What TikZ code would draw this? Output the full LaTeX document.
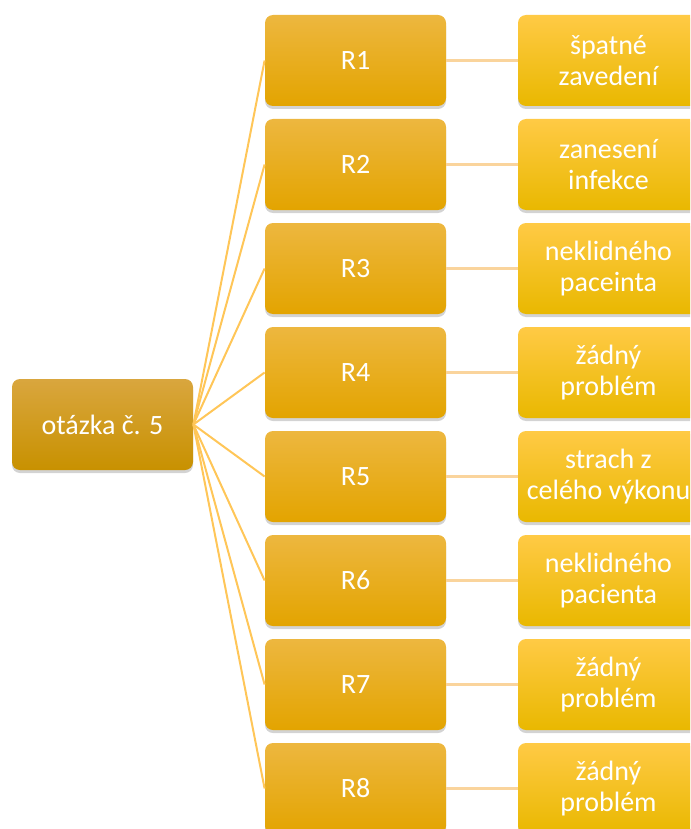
\documentclass[tikz,border=0pt]{standalone}
\usepackage{fontspec}
\setmainfont{Carlito}
\usetikzlibrary{shadows}
\usetikzlibrary{positioning}

\definecolor{rootTop}{HTML}{D9A63E}
\definecolor{rootBot}{HTML}{C89100}
\definecolor{replyTop}{HTML}{EDB73F}
\definecolor{replyBot}{HTML}{E3A400}
\definecolor{answerTop}{HTML}{FFCA45}
\definecolor{answerBot}{HTML}{E9B800}
\definecolor{spokeCol}{HTML}{FFC658}
\definecolor{linkCol}{HTML}{FAD49C}

\begin{document}
\begin{tikzpicture}[x=1pt,y=1pt,thick]
          \tikzstyle{every node}=[node distance=104pt,text=white,align=center,font=\fontsize{28}{31.5}\selectfont]
          \tikzstyle{box}=[rounded corners=8pt,minimum width=181pt,minimum height=91pt,inner sep=0pt,
                           drop shadow={shadow xshift=0pt,shadow yshift=-3pt,opacity=.35}]
          \tikzstyle{root}=[box,top color=rootTop,bottom color=rootBot]
          \tikzstyle{reply}=[box,top color=replyTop,bottom color=replyBot]
          \tikzstyle{answer}=[box,top color=answerTop,bottom color=answerBot]
          \tikzstyle{spoke}=[draw=spokeCol,line width=2pt]
          \tikzstyle{link}=[draw=linkCol,line width=2.5pt]
          %
          \useasboundingbox (0,0) rectangle (690,-829);
          \clip (0,0) rectangle (690,-829);
          %
          \node [root]  (q)  at (102.5,-424.5)  {otázka č. 5};
          \node [reply] (r1) at (355.5,-60.5)   {R1};
          \node [reply] (r2) [below of=r1]      {R2};
          \node [reply] (r3) [below of=r2]      {R3};
          \node [reply] (r4) [below of=r3]      {R4};
          \node [reply] (r5) [below of=r4]      {R5};
          \node [reply] (r6) [below of=r5]      {R6};
          \node [reply] (r7) [below of=r6]      {R7};
          \node [reply] (r8) [below of=r7]      {R8};
          % 
          \node [answer] (a1) [right of=r1,node distance=253pt] {špatné\\zavedení};
          \node [answer] (a2) [right of=r2,node distance=253pt] {zanesení\\infekce};
          \node [answer] (a3) [right of=r3,node distance=253pt] {neklidného\\paceinta};
          \node [answer] (a4) [right of=r4,node distance=253pt] {žádný\\problém};
          \node [answer] (a5) [right of=r5,node distance=253pt] {strach z\\celého výkonu};
          \node [answer] (a6) [right of=r6,node distance=253pt] {neklidného\\pacienta};
          \node [answer] (a7) [right of=r7,node distance=253pt] {žádný\\problém};
          \node [answer] (a8) [right of=r8,node distance=253pt] {žádný\\problém};
          % 
          \foreach \i in {1,...,8}
            \path (q.east) edge [spoke] (r\i.west)
                  (r\i)    edge [link]  (a\i);
        \end{tikzpicture}
\end{document}
